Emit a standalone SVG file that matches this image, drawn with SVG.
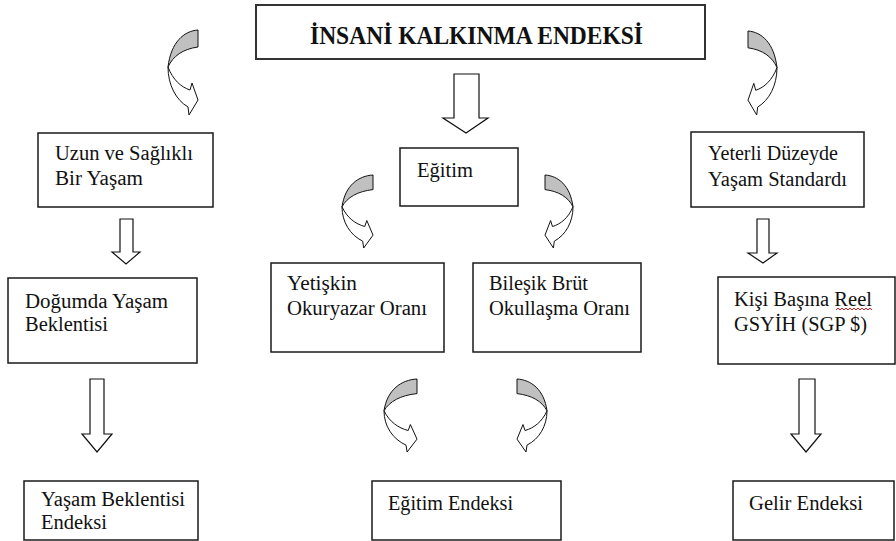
<svg xmlns="http://www.w3.org/2000/svg" xmlns:xlink="http://www.w3.org/1999/xlink" width="896" height="541" viewBox="0 0 896 541">
<style>
.box{fill:#fff;stroke:#1a1a1a;stroke-width:1.5}
.t{font-family:"Liberation Serif","Times New Roman",serif;font-size:20px;fill:#111}
.title{font-family:"Liberation Serif","Times New Roman",serif;font-size:25px;font-weight:bold;fill:#111}
.arr{fill:#fff;stroke:#111;stroke-width:1.2;stroke-linejoin:miter}
.cg{fill:#c0c0c0;stroke:#111;stroke-width:1;vector-effect:non-scaling-stroke}
.cw{fill:#fff;stroke:#111;stroke-width:1;vector-effect:non-scaling-stroke}
</style>
<defs>
<symbol id="curv" viewBox="0 0 30 85" preserveAspectRatio="none" overflow="visible">
<path class="cw" d="M0,37 C0,55 8,70 20,77 L21,85 L30,70 L24,53 L22,60 C13,57 5,50 0,37 Z"/>
<path class="cg" d="M30,0 C16,1 3,12 0,37 C5,26 15,19 30,17 Z"/>
</symbol>
</defs>
<rect width="896" height="541" fill="#fff"/>

<g id="connectors">
<use xlink:href="#curv" href="#curv" x="168" y="30" width="30" height="85"/>
<use xlink:href="#curv" href="#curv" transform="translate(777,31) scale(-1,1)" width="29" height="84"/>
<polygon class="arr" points="454,74 479,74 479,118 488,118 466,133 443,118 454,118"/>
<polygon class="arr" points="120,219 133,219 133,252 140,252 126,264 112,252 120,252"/>
<polygon class="arr" points="757,219 769,219 769,253 777,253 763,263 748,253 757,253"/>
<use xlink:href="#curv" href="#curv" x="342" y="175" width="31" height="73"/>
<use xlink:href="#curv" href="#curv" transform="translate(573,175) scale(-1,1)" width="28" height="73"/>
<polygon class="arr" points="90,379 104,379 104,434 112,434 97,452 82,434 90,434"/>
<polygon class="arr" points="799,379 815,379 815,434 821,434 806,452 791,434 799,434"/>
<use xlink:href="#curv" href="#curv" x="384" y="379" width="33" height="73"/>
<use xlink:href="#curv" href="#curv" transform="translate(547,379) scale(-1,1)" width="30" height="73"/>
</g>

<g id="node-title">
<rect class="box" x="256" y="5" width="449" height="54" style="stroke-width:2;stroke:#333"/>
<text class="title" x="310" y="44" textLength="333" lengthAdjust="spacingAndGlyphs">İNSANİ KALKINMA ENDEKSİ</text>
</g>

<g id="node-uzun">
<rect class="box" x="38" y="133" width="175" height="74"/>
<text class="t" x="55" y="160" textLength="138" lengthAdjust="spacingAndGlyphs">Uzun ve Sağlıklı</text>
<text class="t" x="55" y="185" textLength="88" lengthAdjust="spacingAndGlyphs">Bir Yaşam</text>
</g>

<g id="node-egitim">
<rect class="box" x="400" y="148" width="118" height="58"/>
<text class="t" x="417" y="177" textLength="56" lengthAdjust="spacingAndGlyphs">Eğitim</text>
</g>

<g id="node-yeterli">
<rect class="box" x="691" y="132" width="173" height="75"/>
<text class="t" x="708" y="160" textLength="130" lengthAdjust="spacingAndGlyphs">Yeterli Düzeyde</text>
<text class="t" x="708" y="186" textLength="139" lengthAdjust="spacingAndGlyphs">Yaşam Standardı</text>
</g>

<g id="node-dogumda">
<rect class="box" x="8" y="278" width="189" height="85"/>
<text class="t" x="25" y="308" textLength="143" lengthAdjust="spacingAndGlyphs">Doğumda Yaşam</text>
<text class="t" x="25" y="331" textLength="83" lengthAdjust="spacingAndGlyphs">Beklentisi</text>
</g>

<g id="node-yetiskin">
<rect class="box" x="271" y="263" width="173" height="89"/>
<text class="t" x="287" y="290" textLength="70" lengthAdjust="spacingAndGlyphs">Yetişkin</text>
<text class="t" x="287" y="315" textLength="140" lengthAdjust="spacingAndGlyphs">Okuryazar Oranı</text>
</g>

<g id="node-bilesik">
<rect class="box" x="473" y="263" width="168" height="89"/>
<text class="t" x="489" y="290" textLength="99" lengthAdjust="spacingAndGlyphs">Bileşik Brüt</text>
<text class="t" x="489" y="315" textLength="141" lengthAdjust="spacingAndGlyphs">Okullaşma Oranı</text>
</g>

<g id="node-kisi">
<rect class="box" x="718" y="277" width="177" height="87"/>
<text class="t" x="734" y="306" textLength="138" lengthAdjust="spacingAndGlyphs">Kişi Başına Reel</text>
<path d="M836,310 l2,-2 l2,2 l2,-2 l2,2 l2,-2 l2,2 l2,-2 l2,2 l2,-2 l2,2 l2,-2 l2,2 l2,-2 l2,2 l2,-2 l2,2 l2,-2 l2,2" fill="none" stroke="#e02020" stroke-width="1"/>
<text class="t" x="734" y="331" textLength="133" lengthAdjust="spacingAndGlyphs">GSYİH (SGP $)</text>
</g>

<g id="node-yasam-endeksi">
<rect class="box" x="24" y="481" width="174" height="59"/>
<text class="t" x="41" y="506" textLength="144" lengthAdjust="spacingAndGlyphs">Yaşam Beklentisi</text>
<text class="t" x="41" y="529" textLength="66" lengthAdjust="spacingAndGlyphs">Endeksi</text>
</g>

<g id="node-egitim-endeksi">
<rect class="box" x="372" y="481" width="189" height="59"/>
<text class="t" x="388" y="510" textLength="125" lengthAdjust="spacingAndGlyphs">Eğitim Endeksi</text>
</g>

<g id="node-gelir-endeksi">
<rect class="box" x="733" y="481" width="161" height="59"/>
<text class="t" x="749" y="510" textLength="114" lengthAdjust="spacingAndGlyphs">Gelir Endeksi</text>
</g>
</svg>
